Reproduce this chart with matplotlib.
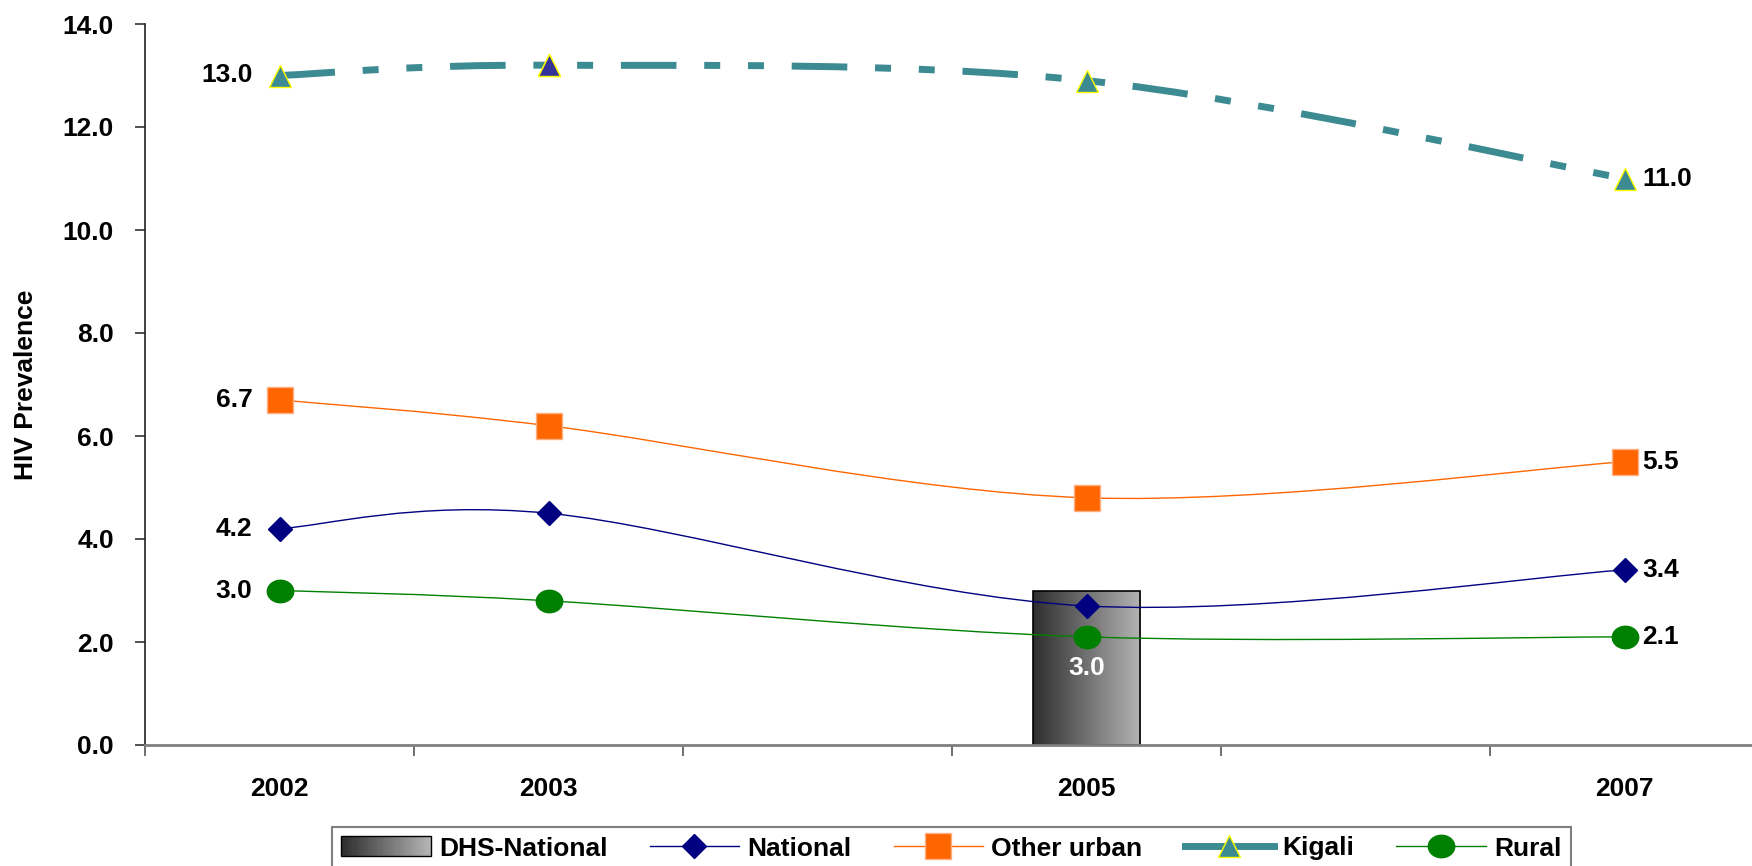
import numpy as np
import matplotlib
matplotlib.use("Agg")
import matplotlib.pyplot as plt
from matplotlib.path import Path
from matplotlib.patches import PathPatch, Rectangle
from matplotlib.lines import Line2D
from matplotlib.legend_handler import HandlerBase
from matplotlib.colors import LinearSegmentedColormap

plt.rcParams["font.family"] = ["Liberation Sans", "DejaVu Sans"]
plt.rcParams["font.weight"] = "bold"

# HIV prevalence (%) by survey year
years = [2002, 2003, 2005, 2007]
year_labels = ["2002", "2003", "2005", "2007"]
national = [4.2, 4.5, 2.7, 3.4]
other_urban = [6.7, 6.2, 4.8, 5.5]
kigali = [13.0, 13.2, 12.9, 11.0]
rural = [3.0, 2.8, 2.1, 2.1]
dhs_year = 2005
dhs_national = 3.0
y_ticks = [0, 2, 4, 6, 8, 10, 12, 14]

FS = 19
gray_cmap = LinearSegmentedColormap.from_list("dhs", ["#2e2e2e", "#b4b4b4"])


def smooth_path(x, y):
    """Excel-style smoothed line: cubic Bezier through every point."""
    pts = np.column_stack([x, y]).astype(float)
    padded = np.vstack([pts[0], pts, pts[-1]])
    verts = [pts[0]]
    codes = [Path.MOVETO]
    for i in range(len(pts) - 1):
        p_prev, p0, p1, p_next = padded[i], padded[i + 1], padded[i + 2], padded[i + 3]
        c1 = p0 + (p1 - p_prev) / 6
        c2 = p1 - (p_next - p0) / 6
        verts += [c1, c2, p1]
        codes += [Path.CURVE4] * 3
    return Path(verts, codes)


class GradientHandler(HandlerBase):
    def create_artists(self, legend, orig_handle, xdescent, ydescent,
                       width, height, fontsize, trans):
        n = 40
        arts = []
        for i in range(n):
            arts.append(Rectangle((-xdescent + i * width / n, -ydescent),
                                  width / n * 1.1, height,
                                  facecolor=gray_cmap(i / (n - 1)),
                                  edgecolor="none", transform=trans))
        arts.append(Rectangle((-xdescent, -ydescent), width, height,
                              facecolor="none", edgecolor="black", lw=1,
                              transform=trans))
        return arts


fig = plt.figure(figsize=(17.52, 8.66), dpi=100)
ax = fig.add_axes([145 / 1752, 1 - 745 / 866, 1614 / 1752, 721 / 866])

# DHS bar with a horizontal gray gradient
bar = ax.bar(dhs_year, dhs_national, width=0.4, color="none",
             edgecolor="black", lw=1.2, zorder=2)[0]
img = ax.imshow(np.linspace(0, 1, 256).reshape(1, -1), cmap=gray_cmap,
                aspect="auto", zorder=1.5,
                extent=(dhs_year - 0.2, dhs_year + 0.2, 0, dhs_national))
img.set_clip_path(bar)
ax.text(dhs_year, dhs_national / 2, f"{dhs_national:.1f}", color="white",
        ha="center", va="center", fontsize=FS, fontweight="bold", zorder=6)

series = [
    # values, color, linewidth, linestyle, marker, marker size, edge color
    (national, "#000080", 1.0, "-", "D", 12.5, "#000080"),
    (other_urban, "#ff6600", 1.0, "-", "s", 19, "#ffb080"),
    (kigali, "#3c8a92", 5, (0, (8, 4, 2.3, 4, 2.3, 4)), "^", 16, "#ffff00"),
    (rural, "#008000", 1.0, "-", "ellipse", 19, "#008000"),
]

ellipse = Path.unit_circle().transformed(
    matplotlib.transforms.Affine2D().scale(1.0, 0.85))

for vals, col, lw, ls, mk, ms, ec in series:
    ax.add_patch(PathPatch(smooth_path(years, vals), fill=False, edgecolor=col,
                           lw=lw, linestyle=ls, capstyle="butt", zorder=3))
    marker = ellipse if mk == "ellipse" else mk
    ax.plot(years, vals, linestyle="none", marker=marker, markersize=ms,
            markerfacecolor=col, markeredgecolor=ec, markeredgewidth=1, zorder=4)
    ax.annotate(f"{vals[0]:.1f}", (years[0], vals[0]), xytext=(-19.5, 0),
                textcoords="offset points", ha="right", va="center",
                fontsize=FS, fontweight="bold", zorder=6)
    ax.annotate(f"{vals[-1]:.1f}", (years[-1], vals[-1]), xytext=(13, 0),
                textcoords="offset points", ha="left", va="center",
                fontsize=FS, fontweight="bold", zorder=6)

# the 2003 Kigali marker is filled navy
ax.plot(years[1], kigali[1], linestyle="none", marker="^", markersize=16,
        markerfacecolor="#333399", markeredgecolor="#ffff00",
        markeredgewidth=1, zorder=5)

ax.set_xlim(2001.5, 2007.5)
ax.set_ylim(0, 14)

ax.set_xticks(np.arange(2001.5, 2008, 1))
ax.set_xticklabels([])
ax.set_xticks(years, minor=True)
ax.set_xticklabels(year_labels, minor=True)
ax.tick_params(axis="x", which="major", length=8, width=1.2, color="#555555",
               direction="out")
ax.tick_params(axis="x", which="minor", length=0, pad=23, labelsize=FS)

ax.set_yticks(y_ticks)
ax.set_yticklabels([f"{v:.1f}" for v in y_ticks])
ax.tick_params(axis="y", length=7, width=1.2, color="#333333", pad=15.5,
               labelsize=FS)

for side in ("top", "right"):
    ax.spines[side].set_visible(False)
ax.spines["left"].set_color("#222222")
ax.spines["left"].set_linewidth(1.2)
ax.spines["bottom"].set_color("#808080")
ax.spines["bottom"].set_linewidth(2)

ax.set_ylabel("HIV Prevalence", fontsize=FS, fontweight="bold")
ax.yaxis.set_label_coords(-0.066, 0.5)

# legend
dhs_proxy = Rectangle((0, 0), 1, 1)
handles = [
    dhs_proxy,
    Line2D([], [], color="#000080", lw=1.0, marker="D", markersize=12.5,
           markerfacecolor="#000080", markeredgecolor="#000080"),
    Line2D([], [], color="#ff6600", lw=1.0, marker="s", markersize=19,
           markerfacecolor="#ff6600", markeredgecolor="#ffb080"),
    Line2D([], [], color="#3c8a92", lw=5, marker="^", markersize=16,
           markerfacecolor="#3c8a92", markeredgecolor="#ffff00"),
    Line2D([], [], color="#008000", lw=1.0, marker=ellipse, markersize=19,
           markerfacecolor="#008000", markeredgecolor="#008000"),
]
labels = ["DHS-National", "National", "Other urban", "Kigali", "Rural"]
leg = fig.legend(handles, labels, loc="upper left",
                 bbox_to_anchor=(332 / 1752, 1 - 827 / 866), borderaxespad=0,
                 ncol=5, frameon=True, fancybox=False, framealpha=1,
                 edgecolor="#808080", borderpad=0.35, handlelength=3.4,
                 handleheight=0.8, handletextpad=0.3, columnspacing=1.6,
                 prop={"size": FS, "weight": "bold"},
                 handler_map={dhs_proxy: GradientHandler()})
leg.get_frame().set_linewidth(1.5)

fig.savefig("out.png", dpi=100)
